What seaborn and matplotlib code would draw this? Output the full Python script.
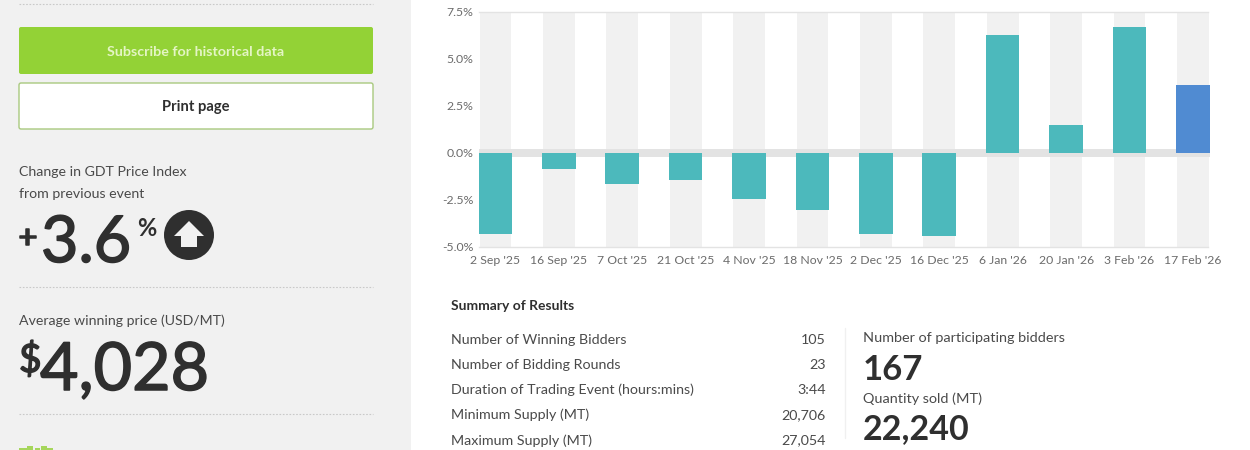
import pandas as pd
import matplotlib
matplotlib.use('Agg')
import matplotlib.pyplot as plt
import matplotlib.patheffects as pe
import seaborn as sns
from matplotlib.patches import Circle, FancyBboxPatch, Polygon, Rectangle

# values
events = ["2 Sep '25", "16 Sep '25", "7 Oct '25", "21 Oct '25", "4 Nov '25", "18 Nov '25",
          "2 Dec '25", "16 Dec '25", "6 Jan '26", "20 Jan '26", "3 Feb '26", "17 Feb '26"]
changes = [-4.35, -0.85, -1.65, -1.47, -2.45, -3.05, -4.35, -4.45, 6.3, 1.5, 6.7, 3.6]
kinds = ['past'] * 11 + ['latest']
y_ticks = [-5.0, -2.5, 0.0, 2.5, 5.0, 7.5]

summary_labels = ['Number of Winning Bidders', 'Number of Bidding Rounds',
                  'Duration of Trading Event (hours:mins)', 'Minimum Supply (MT)', 'Maximum Supply (MT)']
summary_values = ['105', '23', '3:44', '20,706', '27,054']

sns.set_theme(style='white')
plt.rcParams['font.family'] = ['Lato', 'DejaVu Sans']

DARK = '#2f2f2f'
TEXT = '#4a4a4a'
GREY = '#6b6b6b'
W, H = 1250, 450

fig = plt.figure(figsize=(12.5, 4.5), dpi=100, facecolor='white')

# page layer in pixel coordinates
page = fig.add_axes([0, 0, 1, 1])
page.set_xlim(0, W)
page.set_ylim(H, 0)
page.axis('off')

# the big numbers sit between regular and bold
heavy = [pe.withStroke(linewidth=1.1, foreground=DARK)]

page.add_patch(Rectangle((0, 0), 411, H, color='#f1f1f1', lw=0))
for y in [4, 287, 414]:
    page.plot([19, 373], [y, y], color='#c9c9c9', lw=0.8, ls=(0, (1.5, 1.5)))

page.add_patch(FancyBboxPatch((19, 27), 354, 47, boxstyle='round,pad=0,rounding_size=2',
                              fc='#93d236', ec='none'))
page.add_patch(FancyBboxPatch((19, 83), 354, 46, boxstyle='round,pad=0,rounding_size=2',
                              fc='white', ec='#a9c97f', lw=1))
page.text(195.5, 52, 'Subscribe for historical data', color='#e4f5c4', fontsize=10.25,
          ha='center', va='center', fontweight='bold')
page.text(195.5, 107.5, 'Print page', color=DARK, fontsize=10.6, ha='center', va='center',
          fontweight='bold')

page.text(19, 172, 'Change in GDT Price Index', color=TEXT, fontsize=10.2, va='center')
page.text(19, 194, 'from previous event', color=TEXT, fontsize=10.2, va='center')
page.text(18, 248, '+', color=DARK, fontsize=24, va='baseline', path_effects=heavy)
page.text(41, 262, '3.6', color=DARK, fontsize=46.5, va='baseline', path_effects=heavy)
page.text(137, 236, '%', color=DARK, fontsize=17, va='baseline', fontweight='bold')
page.add_patch(Circle((189, 235), 25, color=DARK, lw=0))
page.add_patch(Polygon([(189, 221), (204, 236), (197, 236), (197, 247), (181, 247), (181, 236), (174, 236)],
                       color='#f1f1f1', lw=0))

page.text(19, 321, 'Average winning price (USD/MT)', color=TEXT, fontsize=10.15, va='center')
page.text(19, 372, '$', color=DARK, fontsize=28, va='baseline', path_effects=heavy)
page.text(40, 390, '4,028', color=DARK, fontsize=47.8, va='baseline', path_effects=heavy)

# top of the cropped logo at the bottom edge
for x, y, w in [(19, 448, 8), (27, 446, 6), (35, 448, 5), (41, 446, 6), (47, 448, 6)]:
    page.add_patch(Rectangle((x, y), w, H - y, color='#a6d65c', lw=0))

page.text(451, 306, 'Summary of Results', color=DARK, fontsize=10, va='center', fontweight='bold')
for y, label, value in zip([340, 365, 390, 415, 440.5], summary_labels, summary_values):
    page.text(451, y, label, color=TEXT, fontsize=10.3, va='center')
    page.text(826, y, value, color=TEXT, fontsize=10.3, va='center', ha='right')
page.plot([845, 845], [328, 438], color='#f0f0f0', lw=1)

page.text(863, 338, 'Number of participating bidders', color=TEXT, fontsize=10.35, va='center')
page.text(863, 380, '167', color=DARK, fontsize=25, va='baseline', fontweight='bold')
page.text(863, 398.5, 'Quantity sold (MT)', color=TEXT, fontsize=10.35, va='center')
page.text(863, 439, '22,240', color=DARK, fontsize=24.5, va='baseline', fontweight='bold')

# chart
left, right, top, bottom = 479, 1210, 12, 246.5
ax = fig.add_axes([left / W, 1 - bottom / H, (right - left) / W, (bottom - top) / H])
ax.patch.set_alpha(0)

df = pd.DataFrame({'event': events, 'change': changes, 'kind': kinds})
for i in range(len(events)):
    ax.axvspan(i - 0.25, i + 0.25, color='#f1f1f1', lw=0, zorder=0)
ax.axhspan(-0.22, 0.22, color='#e3e3e3', lw=0, zorder=1)

sns.barplot(data=df, x='event', y='change', hue='kind', palette={'past': '#4cb9bc', 'latest': '#508bd2'},
            dodge=False, width=0.53, saturation=1, linewidth=0, legend=False, ax=ax, zorder=3)

ax.set_xlim(-0.26, 11.27)
ax.set_ylim(-5, 7.5)
ax.set_xlabel('')
ax.set_ylabel('')
ax.set_yticks(y_ticks)
ax.set_yticklabels([f'{v:.1f}%' for v in y_ticks])
ax.tick_params(axis='both', length=0, labelsize=8.8, labelcolor=GREY)
ax.tick_params(axis='x', pad=6)
ax.tick_params(axis='y', pad=4)
for side in ['left', 'right']:
    ax.spines[side].set_visible(False)
for side in ['top', 'bottom']:
    ax.spines[side].set_color('#e3e3e3')
    ax.spines[side].set_linewidth(1)
    ax.spines[side].set_bounds(-0.26, 11.24)

fig.savefig('out.png', dpi=100)
